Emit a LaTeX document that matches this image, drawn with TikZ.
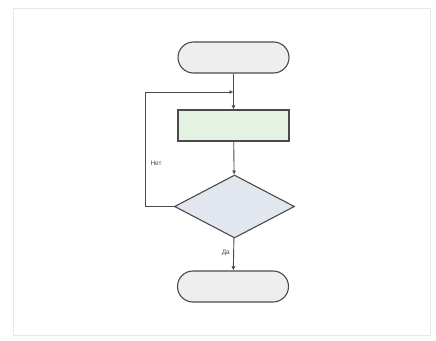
\documentclass[tikz,border=0pt]{standalone}
\usepackage{fontspec}
\setmainfont{Liberation Sans}
\usetikzlibrary{shapes.geometric,arrows.meta}
\definecolor{linec}{HTML}{4A4A4A}
\definecolor{termfill}{HTML}{EEEEEE}
\definecolor{procfill}{HTML}{E4F2E4}
\definecolor{decfill}{HTML}{E2E7EF}
\definecolor{framec}{HTML}{E8E8E8}
\tikzset{
  term/.style={draw=linec, line width=1.1pt, fill=termfill, rounded corners=15.5pt, minimum width=111pt, minimum height=31pt, inner sep=0pt},
  proc/.style={draw=linec, line width=1.1pt, fill=procfill, minimum width=111pt, minimum height=31pt, inner sep=0pt},
  dec/.style={draw=linec, line width=1.1pt, fill=decfill, diamond, minimum width=120pt, minimum height=63pt, inner sep=0pt, aspect=1.9},
  conn/.style={draw=linec, line width=0.9pt, -{Latex[length=4pt,width=4pt]}},
  lbl/.style={font=\fontsize{6.5}{7.5}\selectfont, text=linec}
}
\begin{document}
\begin{tikzpicture}[x=1pt,y=-1pt]
\useasboundingbox (0,0) rectangle (436,340);
\fill[white] (0,0) rectangle (436,340);
\draw[framec, line width=1pt] (13,8) rectangle (430,335);
\node[term] (start) at (233.5,57.5) {};
\node[proc] (proc) at (233.5,125.5) {};
\node[dec] (dec) at (234.5,206.5) {};
\node[term] (stop) at (233,286.5) {};
\coordinate (c1) at (145,206.5);
\coordinate (c2) at (145,92);
\coordinate (j) at (233.5,92);
\draw[conn] (start) -- (proc);
\draw[conn] (proc) -- (dec);
\draw[conn] (dec.west) -- (c1) -- (c2) -- (j);
\draw[conn] (dec) -- node[lbl, pos=0.45, left=0pt] {Да} (stop);
\node[lbl, right=2pt] (net) at (145,163) {Нет};
\end{tikzpicture}
\end{document}
